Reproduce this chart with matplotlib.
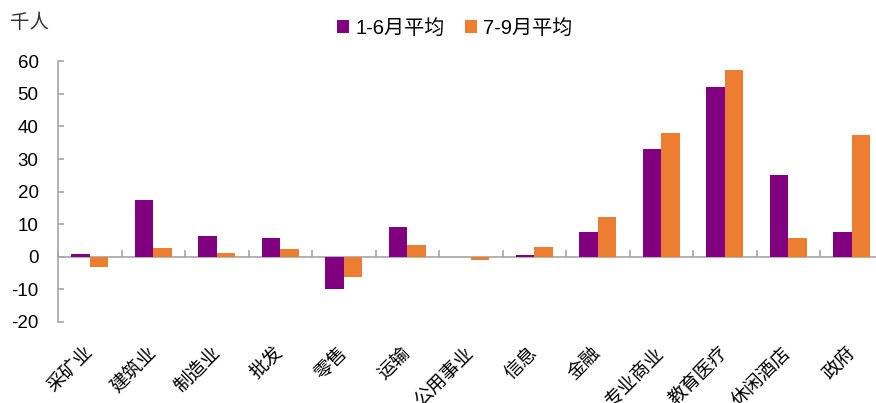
import matplotlib
matplotlib.use("Agg")
import matplotlib.pyplot as plt
import numpy as np

plt.rcParams['font.family'] = ['Liberation Sans', 'Noto Sans CJK SC', 'DejaVu Sans']

categories = ['采矿业', '建筑业', '制造业', '批发', '零售', '运输', '公用事业', '信息',
              '金融', '专业商业', '教育医疗', '休闲酒店', '政府']
h1_avg = [0.9, 17.3, 6.4, 5.7, -9.8, 9.1, 0.0, 0.5, 7.5, 33.0, 52.2, 25.1, 7.5]
q3_avg = [-3.2, 2.7, 1.3, 2.5, -6.2, 3.6, -1.0, 3.0, 12.3, 37.9, 57.2, 5.7, 37.3]
series_names = ['1-6月平均', '7-9月平均']
yticks = [-20, -10, 0, 10, 20, 30, 40, 50, 60]

purple = '#800080'
orange = '#ED7D31'
gray = '#A6A6A6'

fig = plt.figure(figsize=(8.76, 4.03), dpi=100)
ax = fig.add_axes([58 / 876, 1 - 322 / 403, 825.5 / 876, (322 - 61.3) / 403])

x = np.arange(len(categories))
w = 0.29
ax.bar(x - w / 2, h1_avg, w, color=purple, label=series_names[0])
ax.bar(x + w / 2, q3_avg, w, color=orange, label=series_names[1])

ax.set_xlim(-0.5, len(categories) - 0.5)
ax.set_ylim(yticks[0], yticks[-1])
ax.set_yticks(yticks)
ax.set_yticklabels([str(t) for t in yticks], fontsize=13.5)

for s in ['top', 'right', 'bottom']:
    ax.spines[s].set_visible(False)
ax.spines['left'].set_color(gray)
ax.spines['left'].set_linewidth(1.2)
ax.tick_params(axis='y', direction='in', length=4, width=1.2, color=gray, pad=14)

ax.set_xticks(x)
ax.set_xticklabels(categories, rotation=45, ha='right', va='center', rotation_mode='anchor',
                   fontsize=13.5, family=['Noto Sans CJK SC', 'DejaVu Sans'])
ax.tick_params(axis='x', length=0, pad=20)

# zero axis line with category boundary ticks
zero_frac = (0 - yticks[0]) / (yticks[-1] - yticks[0])
sec = ax.secondary_xaxis(zero_frac)
sec.set_xticks(np.arange(len(categories) + 1) - 0.5)
sec.tick_params(axis='x', direction='in', length=5, width=1.2, color=gray, labelbottom=False)
sec.spines['bottom'].set_color(gray)
sec.spines['bottom'].set_linewidth(1.2)

fig.legend(loc='center', bbox_to_anchor=(0.519, 0.93), ncol=2, frameon=False,
           fontsize=14.5, handlelength=0.6, handleheight=0.6, handletextpad=0.3,
           columnspacing=1.0)

fig.text(10 / 876, 1 - 22 / 403, '千人', fontsize=14, va='center', ha='left',
         family=['Noto Sans CJK SC', 'DejaVu Sans'], color='#333333')

fig.savefig('out.png', dpi=100)
